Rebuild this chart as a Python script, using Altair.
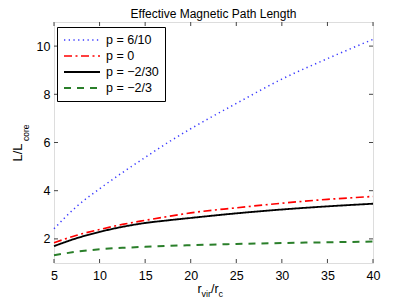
import altair as alt
import pandas as pd

FONT = "Liberation Sans"

x_vals = [5, 7.5, 10, 12.5, 15, 17.5, 20, 25, 30, 35, 40]
series = ["p = 6/10", "p = 0", "p = \u22122/30", "p = \u22122/3"]
y_p610 = [2.42, 3.35, 4.08, 4.75, 5.38, 6.00, 6.57, 7.62, 8.63, 9.48, 10.28]
y_p0 = [1.84, 2.15, 2.39, 2.60, 2.77, 2.93, 3.08, 3.29, 3.48, 3.64, 3.76]
y_p230 = [1.70, 2.03, 2.29, 2.50, 2.66, 2.77, 2.87, 3.06, 3.22, 3.35, 3.46]
y_p23 = [1.32, 1.47, 1.57, 1.63, 1.67, 1.71, 1.74, 1.79, 1.83, 1.86, 1.89]
x_ticks = [5, 10, 15, 20, 25, 30, 35, 40]
y_ticks = [2, 4, 6, 8, 10]

colors = ["#3b3bff", "#ff0000", "#000000", "#2a7f2a"]
dashes = [[1.3, 3.4], [8, 3.5, 2, 3.5], [1, 0], [7, 6]]
widths = [1.5, 2, 2, 2]

W, H = 319, 241

rows = []
for name, ys in zip(series, [y_p610, y_p0, y_p230, y_p23]):
    for xv, yv in zip(x_vals, ys):
        rows.append({"x": xv, "y": yv, "series": name})
df = pd.DataFrame(rows)

xs = alt.Scale(domain=[5, 40], nice=False, zero=False)
ys_ = alt.Scale(domain=[1, 11], nice=False, zero=False)

xaxis = alt.Axis(values=x_ticks, title=None, grid=False, domain=False,
                 ticks=False, tickSize=0, labelPadding=6, labelFlush=False,
                 labelFont=FONT, labelFontSize=12.5, labelColor="black")
yaxis = alt.Axis(values=y_ticks, title=None, grid=False, domain=False,
                 ticks=False, tickSize=0, labelPadding=4, labelFlush=False,
                 labelFont=FONT, labelFontSize=12.5, labelColor="black")

leg = alt.Legend(
    title=None, orient="none", legendX=3, legendY=5,
    symbolType="M-1,0H5", symbolSize=144, labelOffset=29,
    labelFont=FONT, labelFontSize=12.5, labelColor="black",
    padding=6, rowPadding=2, strokeColor="black", fillColor="white",
)

lines = alt.Chart(df).mark_line(interpolate="monotone").encode(
    x=alt.X("x:Q", scale=xs, axis=xaxis),
    y=alt.Y("y:Q", scale=ys_, axis=yaxis),
    color=alt.Color("series:N", scale=alt.Scale(domain=series, range=colors), legend=leg),
    strokeDash=alt.StrokeDash("series:N", scale=alt.Scale(domain=series, range=dashes), legend=leg),
    strokeWidth=alt.StrokeWidth("series:N", scale=alt.Scale(domain=series, range=widths), legend=leg),
)

xt = pd.DataFrame({"x": x_ticks})
yt = pd.DataFrame({"y": y_ticks})
TC = "#444444"
xb = alt.Chart(xt).mark_rule(color=TC).encode(x=alt.X("x:Q", scale=xs, axis=xaxis), y=alt.value(H), y2=alt.value(H - 4))
xtop = alt.Chart(xt).mark_rule(color=TC).encode(x=alt.X("x:Q", scale=xs, axis=xaxis), y=alt.value(0), y2=alt.value(4))
yl = alt.Chart(yt).mark_rule(color=TC).encode(y=alt.Y("y:Q", scale=ys_, axis=yaxis), x=alt.value(0), x2=alt.value(4))
yr = alt.Chart(yt).mark_rule(color=TC).encode(y=alt.Y("y:Q", scale=ys_, axis=yaxis), x=alt.value(W), x2=alt.value(W - 4))

one = pd.DataFrame({"a": [0]})


def txt(s, x, y, size, angle=0, align="left"):
    return alt.Chart(one).mark_text(text=s, align=align, baseline="alphabetic", font=FONT,
                                    fontSize=size, angle=angle, color="black").encode(
        x=alt.value(x), y=alt.value(y))


labels = [
    txt("Effective Magnetic Path Length", W / 2, -4, 12, align="center"),
    txt("r", 143.5, 270.5, 12.5),
    txt("vir", 147.5, 274.5, 9),
    txt("/r", 157, 270.5, 12.5),
    txt("c", 164.5, 274.5, 9),
    txt("L/L", -32.5, 139.5, 13, 270),
    txt("core", -25.5, 119, 8.5, 270),
]

chart = alt.layer(lines, xb, xtop, yl, yr, *labels).properties(
    width=W, height=H,
    autosize=alt.AutoSizeParams(type="none"),
    padding={"left": 46, "top": 14, "right": 28, "bottom": 34},
).configure_view(stroke="#444444", strokeWidth=1).configure(background="white")

chart.save("out.html", embed_options={"renderer": "svg", "actions": False})
